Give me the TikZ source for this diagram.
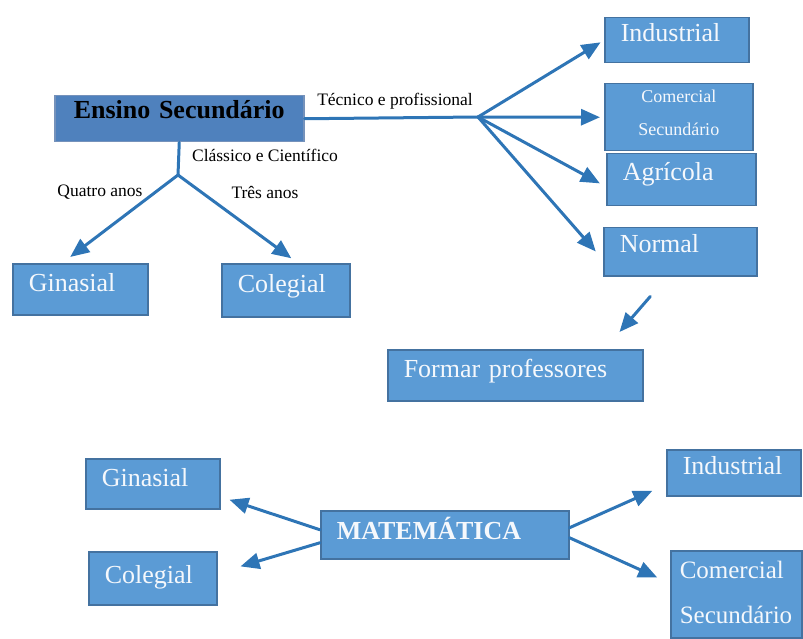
\documentclass[tikz,border=0pt]{standalone}
\usepackage{fontspec}
\setmainfont{Liberation Serif}
\usepackage{xcolor}
\usepackage{tikz}
\usetikzlibrary{arrows.meta,positioning}

\definecolor{boxblue}{RGB}{91,155,213}
\definecolor{boxedge}{RGB}{68,114,160}
\definecolor{headblue}{RGB}{79,129,189}
\definecolor{headedge}{RGB}{117,146,187}
\definecolor{arrowblue}{RGB}{46,117,182}
\definecolor{boxtext}{RGB}{245,248,252}

\begin{document}
\begin{tikzpicture}[
  x=1pt, y=-1pt,
  box/.style={rectangle, draw=boxedge, line width=1.5pt, fill=boxblue, text=boxtext, anchor=north west, inner xsep=16pt, inner ysep=0pt, align=left, font=\fontsize{26}{31}\selectfont},
  lbl/.style={inner sep=0pt, font=\fontsize{17.5}{21}\selectfont},
  arrow/.style={-{Triangle[length=19pt,width=16pt]}, line width=3pt, draw=arrowblue, line cap=round},
  link/.style={line width=3pt, draw=arrowblue, line cap=round}
]
\useasboundingbox (0,0) rectangle (803,639);

% ensino secundario and its branches
\node[box, text width=217pt, align=center, fill=headblue, draw=headedge, text=black, font=\fontsize{26}{31}\selectfont\bfseries, text height=23pt, text depth=23pt] (ensino) at (54,95) {Ensino Secundário};

\node[box, text width=112pt, text height=24pt, text depth=21pt] (industrial) at (604,17) {Industrial};
\node[box, text width=116pt, align=center, font=\fontsize{18}{33}\selectfont, text height=19pt, text depth=48pt] (comercial) at (604,83) {Comercial\\Secundário};
\node[box, text width=117pt, text height=27pt, text depth=25pt] (agricola) at (606,153) {Agrícola};
\node[box, text width=121pt, text height=25pt, text depth=23pt] (normal) at (603,227) {Normal};
\node[box, text width=223pt, text height=28pt, text depth=23pt] (formar) at (387,349) {Formar professores};

\node[box, text width=103pt, text height=28pt, text depth=23pt] (ginasial) at (12,263) {Ginasial};
\node[box, text width=96pt, text height=29pt, text depth=24pt] (colegial) at (221,263) {Colegial};

\node[lbl] (tecnico) at (395,101) {Técnico e profissional};
\node[lbl] (classico) at (265,155) {Clássico e Científico};
\node[lbl] (quatro) at (100,192) {Quatro anos};
\node[lbl] (tres) at (265,192) {Três anos};

\coordinate (tp) at (478,117);
\coordinate (cb) at (178,175);

\draw[link] (ensino.east) -- (tp);
\draw[arrow, shorten >=4pt] (tp) -- (industrial.west);
\draw[arrow, shorten >=4pt] (tp) -- (comercial.west);
\draw[arrow, shorten >=7pt] (tp) -- ([yshift=-7pt]agricola.west);
\draw[arrow, shorten >=11pt] (tp) -- ([yshift=-8pt]normal.west);
\draw[arrow] ([xshift=-30pt,yshift=-20pt]normal.south) -- ([xshift=-24pt,yshift=17pt]formar.north east);

\draw[link] (ensino.south) -- (cb);
\draw[arrow, shorten >=10pt] (cb) -- ([xshift=-18pt]ginasial.north);
\draw[arrow, shorten >=8pt] (cb) -- ([xshift=12pt]colegial.north);

% matematica
\node[box, text width=216pt, font=\fontsize{26}{31}\selectfont\bfseries, text height=29pt, text depth=19pt] (matematica) at (320,510) {MATEMÁTICA};
\node[box, text width=102pt, text height=28pt, text depth=22pt] (ginasialB) at (85,458) {Ginasial};
\node[box, text width=96pt, text height=32pt, text depth=21pt] (colegialB) at (88,551) {Colegial};
\node[box, text width=102pt, text height=25pt, text depth=21pt] (industrialB) at (666,449) {Industrial};
\node[box, inner xsep=9pt, text width=113pt, font=\fontsize{25}{45}\selectfont, text height=28pt, text depth=59pt] (comercialB) at (670,550) {Comercial\\Secundário};

\draw[arrow, shorten >=9.5pt] ([yshift=5pt]matematica.west) -- ([yshift=-13pt]ginasialB.east);
\draw[arrow, shorten >=24pt] ([yshift=-8pt]matematica.west) -- ([yshift=5pt]colegialB.east);
\draw[arrow, shorten >=15pt] ([yshift=7pt]matematica.east) -- ([yshift=-12pt]industrialB.west);
\draw[arrow, shorten >=14pt] ([yshift=-3pt]matematica.east) -- ([yshift=11pt]comercialB.west);

\end{tikzpicture}
\end{document}
